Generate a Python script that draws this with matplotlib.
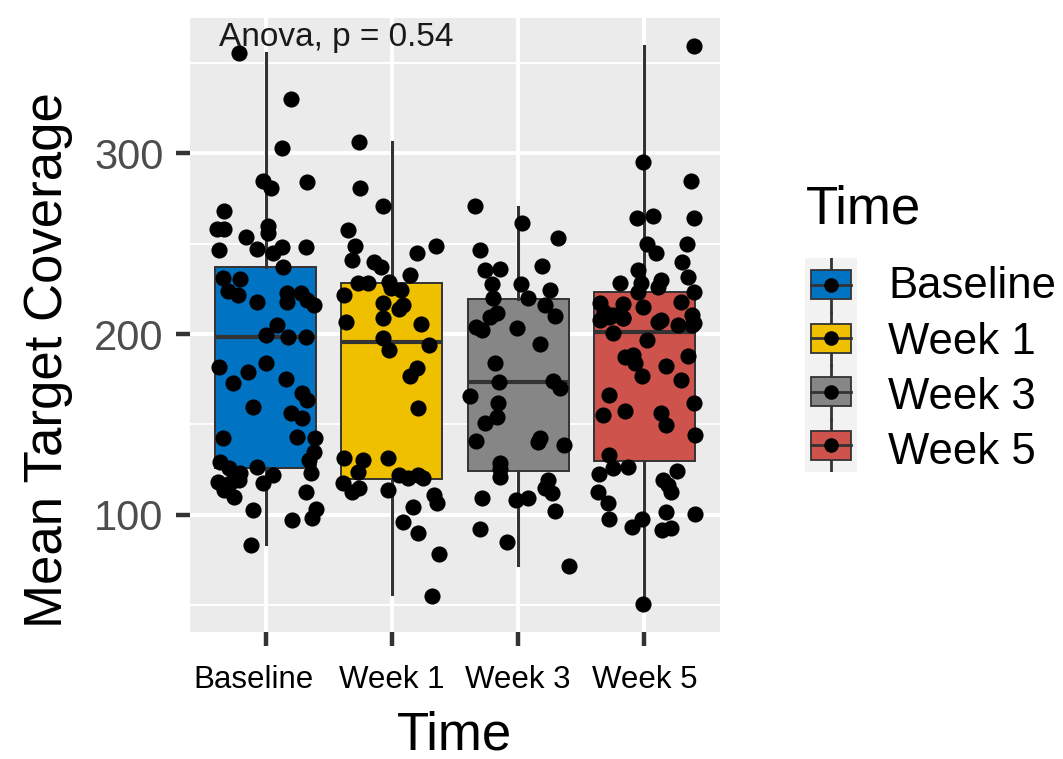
import numpy as np
import matplotlib.pyplot as plt
from matplotlib.patches import Rectangle
from matplotlib.transforms import ScaledTranslation

plt.rcParams['font.family'] = ['Liberation Sans', 'DejaVu Sans']

groups = ['Baseline', 'Week 1', 'Week 3', 'Week 5']
colors = ['#0073C2', '#EFC000', '#868686', '#CD534C']

# box statistics: whisker low, Q1, median, Q3, whisker high
whislo = [84, 56, 72, 50]
q1 = [126, 120, 124, 129.5]
med = [198.5, 195.8, 173.5, 201.3]
q3 = [237, 228, 219.5, 223]
whishi = [355.8, 306.4, 270.5, 359.5]

# jittered points: values and horizontal jitter (in category units)
base_y = [355.8, 330, 302.8, 284.5, 281, 284, 268, 258, 258, 254, 260, 256, 246.4,
          247, 244.7, 248, 248, 237, 231, 230.4, 224, 221.5, 217.7, 222.6, 222.6,
          218.8, 216, 217.7, 205, 199.4, 198.3, 198.3, 181.8, 179, 184, 173, 175,
          167.4, 163.5, 159.7, 156, 153.6, 142.5, 143, 142.5, 134.8, 130.4, 129,
          126.5, 126, 123, 122, 118, 117.7, 119.3, 117.7, 123, 113.8, 110, 112.7,
          102.8, 97.2, 98, 103, 83.4]
base_dx = [-0.21, 0.2, 0.13, -0.02, 0.04, 0.33, -0.33, -0.39, -0.33, -0.16, 0.02,
           0.02, -0.37, -0.07, 0.06, 0.13, 0.32, 0.14, -0.34, -0.2, -0.3, -0.22,
           -0.07, 0.17, 0.28, 0.33, 0.38, 0.17, 0.09, 0.0, 0.18, 0.32, -0.37, -0.14,
           0.0, -0.26, 0.16, 0.29, 0.33, -0.1, 0.2, 0.29, -0.34, 0.25, 0.39, 0.38,
           0.34, -0.36, -0.07, -0.29, -0.2, 0.06, -0.38, -0.28, -0.21, -0.02, 0.36,
           -0.33, -0.25, 0.32, -0.1, 0.21, 0.37, 0.4, -0.12]

wk1_y = [306.6, 281, 271, 257.5, 248.6, 241, 244.8, 248.6, 240, 237, 232.6, 228,
         228, 228.7, 225.4, 224.3, 221.5, 217, 214, 216, 209, 206.6, 205.5, 197.8,
         191, 194, 181, 177, 159, 131.5, 130.4, 131.5, 123.8, 117.7, 112.7, 115,
         113.8, 122, 120.4, 122, 120.4, 111, 106.6, 104, 96, 90, 78, 54.7]
wk1_dx = [-0.26, -0.25, -0.07, -0.35, -0.29, -0.32, 0.2, 0.35, -0.14, -0.09, 0.14,
          -0.27, -0.19, -0.02, -0.01, 0.07, -0.38, -0.07, 0.06, 0.09, -0.07, -0.36,
          0.23, -0.07, -0.02, 0.29, 0.2, 0.14, 0.21, -0.38, -0.23, -0.03, -0.27,
          -0.39, -0.32, -0.26, -0.03, 0.06, 0.13, 0.21, 0.25, 0.33, 0.36, 0.17,
          0.09, 0.21, 0.37, 0.32]

wk3_y = [270.7, 261.3, 253, 246.4, 235.4, 236, 237.6, 227.6, 227.6, 224.3, 220, 220,
         216, 210, 209.4, 211.6, 204, 202, 203.3, 194.5, 184, 173.5, 174, 170, 165.7,
         162, 154, 151, 141, 142.5, 140.3, 138.7, 128.7, 125, 121, 119.3, 115, 112,
         109.4, 108.3, 109.4, 102.2, 92.3, 85, 71.8]
wk3_dx = [-0.34, 0.03, 0.32, -0.3, -0.26, -0.14, 0.19, -0.21, 0.02, 0.25, -0.2, 0.08,
          0.21, 0.29, -0.22, -0.17, -0.33, -0.29, -0.01, 0.17, -0.18, -0.15, 0.28,
          0.33, -0.38, -0.16, -0.17, -0.26, -0.33, 0.17, 0.16, 0.36, -0.14, -0.14,
          -0.14, 0.24, 0.21, 0.27, -0.29, -0.02, 0.08, 0.29, -0.3, -0.09, 0.4]

wk5_y = [359.7, 295, 284.5, 264, 265.2, 264, 250, 245, 250, 240, 235.4, 231.5, 228,
         228, 229.8, 226, 223, 223, 217, 212, 209.4, 216.6, 215, 217.7, 208.8, 207.7,
         210.5, 206, 207.7, 210.5, 208.8, 206.6, 205, 205, 200.5, 196.7, 187.3,
         188.4, 184, 176.8, 182.3, 187.8, 174.6, 166.3, 157.5, 155.2, 156.4, 149.7,
         161.9, 144.2, 133.2, 126, 126.5, 122.7, 124.3, 119.3, 116.6, 112.7, 112.7,
         106.6, 97.8, 93.4, 97.8, 101.7, 100.6, 91.7, 92.8, 50.3]
wk5_dx = [0.39, -0.01, 0.37, -0.06, 0.07, 0.39, 0.02, 0.09, 0.34, 0.3, -0.05, 0.35,
          -0.19, -0.03, 0.13, 0.11, -0.05, 0.39, -0.35, -0.32, -0.28, -0.17, -0.01,
          0.29, -0.17, 0.13, 0.38, 0.39, -0.35, -0.25, -0.17, 0.11, 0.27, 0.38,
          -0.25, 0.02, -0.15, -0.09, -0.07, -0.02, 0.17, 0.35, 0.29, -0.28, -0.15,
          -0.33, 0.13, 0.17, 0.39, 0.4, -0.28, -0.25, -0.13, -0.36, 0.26, 0.15, 0.19,
          0.21, -0.37, -0.29, -0.28, -0.1, -0.02, 0.17, 0.4, 0.14, 0.21, -0.01]

point_y = [base_y, wk1_y, wk3_y, wk5_y]
point_dx = [base_dx, wk1_dx, wk3_dx, wk5_dx]

fig = plt.figure(figsize=(10.63, 7.59), dpi=100)
ax = fig.add_axes([190 / 1063, 1 - 632 / 759, 530 / 1063, 614 / 759])
ax.set_facecolor('#EBEBEB')

pos = np.arange(1, len(groups) + 1)
stats = []
for i, g in enumerate(groups):
    stats.append(dict(label=g, whislo=whislo[i], q1=q1[i], med=med[i], q3=q3[i],
                      whishi=whishi[i], fliers=[]))
bp = ax.bxp(stats, positions=pos, widths=0.8, patch_artist=True, showcaps=False,
            boxprops=dict(edgecolor='#333333', linewidth=1.4),
            whiskerprops=dict(color='#333333', linewidth=2.2),
            medianprops=dict(color='#333333', linewidth=3), zorder=2)
for patch, c in zip(bp['boxes'], colors):
    patch.set_facecolor(c)

for i in range(len(groups)):
    ax.scatter(pos[i] + np.array(point_dx[i]), point_y[i], s=135, color='black',
               linewidths=0, zorder=3)

ax.set_xlim(0.4, 4.6)
ax.set_ylim(35, 375)
ax.set_xticks(pos)
ax.set_xticklabels(groups, fontsize=22.5)
ax.set_yticks([100, 200, 300])
ax.set_yticks([50, 150, 250, 350], minor=True)
ax.tick_params(axis='y', which='major', labelsize=30, labelcolor='#4D4D4D',
               length=10, width=3.2, color='#333333', pad=9)
ax.tick_params(axis='x', which='major', length=10, width=3.2, color='#333333', pad=14)
ax.tick_params(which='minor', length=0)
ax.grid(which='major', color='white', linewidth=2.8)
ax.grid(which='minor', axis='y', color='white', linewidth=1.4)
ax.set_axisbelow(True)
for s in ax.spines.values():
    s.set_visible(False)

# the first label sits a little left of its tick in the original
lbl0 = ax.get_xticklabels()[0]
lbl0.set_transform(lbl0.get_transform() + ScaledTranslation(-0.12, 0, fig.dpi_scale_trans))

ax.set_xlabel('Time', fontsize=38)
ax.xaxis.set_label_coords(0.5, -0.128)
ax.set_ylabel('Mean Target Coverage', fontsize=38)
ax.yaxis.set_label_coords(-0.22, 0.443)

ax.text(0.63, 364, 'Anova, p = 0.54', fontsize=24, color='#1A1A1A', ha='left', va='center')

# legend drawn as its own small axes
lax = fig.add_axes([805 / 1063, 1 - 472 / 759, 52 / 1063, 214 / 759])
lax.set_xlim(0, 1)
lax.set_ylim(0, 4)
lax.axis('off')
lax.add_patch(Rectangle((0, 0), 1, 4, color='#F2F2F2', zorder=0))
for i, c in enumerate(colors):
    yc = 3.5 - i
    lax.plot([0.5, 0.5], [yc - 0.5, yc + 0.5], color='#333333', linewidth=2, zorder=1)
    lax.add_patch(Rectangle((0.12, yc - 0.27), 0.76, 0.54, facecolor=c,
                            edgecolor='#333333', linewidth=1.3, zorder=2))
    lax.plot([0.12, 0.88], [yc, yc], color='#333333', linewidth=2, zorder=3)
    lax.scatter([0.5], [yc], s=90, color='black', zorder=4)
    fig.text(888 / 1063, 1 - (287 + 55 * i) / 759, groups[i], fontsize=31.5,
             ha='left', va='center')
fig.text(806 / 1063, 1 - 210 / 759, 'Time', fontsize=38, ha='left', va='center')

fig.savefig('out.png', dpi=100)
